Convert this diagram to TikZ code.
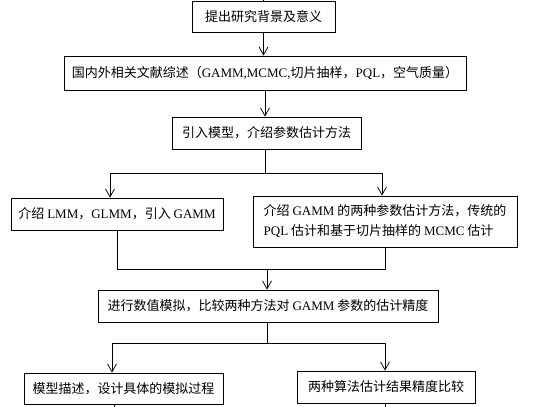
\documentclass[tikz,border=0pt]{standalone}
\usepackage{fontspec}
\setmainfont{Liberation Serif}
\newfontfamily\cjk{Noto Sans CJK SC}
\usetikzlibrary{arrows.meta}
\newcommand\en[1]{{\rmfamily #1}}
\begin{document}
\begin{tikzpicture}[x=1pt,y=-1pt,
  box/.style={draw, line width=0.75pt, inner sep=0pt, font=\fontsize{13}{20}\selectfont\cjk},
  arr/.style={-{Straight Barb[length=8pt,width=9pt]}, line width=0.75pt},
  ln/.style={line width=0.75pt}]
\useasboundingbox (0,0) rectangle (557,407);
\node[box, minimum width=143pt, minimum height=31pt] (b1) at (263.5,16.5) {提出研究背景及意义};
\node[box, minimum width=402pt, minimum height=34pt] (b2) at (265,73) {国内外相关文献综述（\en{GAMM,MCMC,}切片抽样，\en{PQL}，空气质量）};
\node[box, minimum width=189pt, minimum height=32pt] (b3) at (266.5,133) {引入模型，介绍参数估计方法};
\node[box, minimum width=212pt, minimum height=32pt] (b4) at (117,214) {介绍 \en{LMM}，\en{GLMM}，引入 \en{GAMM}};
\node[box, minimum width=264pt, minimum height=51pt, align=left] (b5) at (385,221.5) {介绍 \en{GAMM} 的两种参数估计方法，传统的\\\en{PQL} 估计和基于切片抽样的 \en{MCMC} 估计};
\node[box, minimum width=340pt, minimum height=32pt] (b6) at (268,306) {进行数值模拟，比较两种方法对 \en{GAMM} 参数的估计精度};
\node[box, minimum width=199pt, minimum height=31pt] (b7) at (123.5,388.5) {模型描述，设计具体的模拟过程};
\node[box, minimum width=178pt, minimum height=32pt] (b8) at (386,387) {两种算法估计结果精度比较};
\coordinate (top) at (263.5,0);
\coordinate (s1) at (265,173);
\coordinate (m) at (267,269);
\coordinate (s2) at (267,343);
\coordinate (e1) at (114,407);
\coordinate (e2) at (385,407);
\draw[ln] (top) -- (b1.north);
\draw[arr] (b1.south) -- (b1.south |- b2.north);
\draw[arr] (b2.south) -- (b2.south |- b3.north);
\draw[ln] (b3.south -| s1) -- (s1);
\draw[arr] (s1) -| ([xshift=-7pt]b4.north);
\draw[arr] (s1) -| ([xshift=-3pt]b5.north);
\draw[ln] (b4.south) |- (m);
\draw[ln] (b5.south) |- (m);
\draw[arr] (m) -- (m |- b6.north);
\draw[ln] (b6.south -| s2) -- (s2);
\draw[arr] (s2) -| ([xshift=-11.5pt]b7.north);
\draw[arr] (s2) -| ([xshift=-1pt]b8.north);
\draw[ln] (b7.south -| e1) -- (e1);
\draw[ln] (b8.south -| e2) -- (e2);
\end{tikzpicture}
\end{document}
